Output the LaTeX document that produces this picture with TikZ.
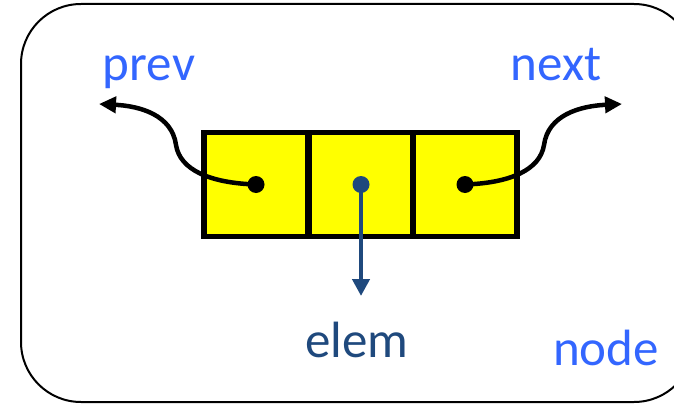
\documentclass[tikz,border=0pt]{standalone}
\usepackage{fontspec}
\setmainfont{Carlito}
\usetikzlibrary{arrows.meta}
\definecolor{labelblue}{HTML}{3366FF}
\definecolor{elemblue}{HTML}{1F497D}
\definecolor{cellyellow}{HTML}{FFFF00}
\tikzset{
  cellbox/.style={draw=black, fill=cellyellow, line width=5.5pt, minimum width=104pt,
    minimum height=104pt, inner sep=0pt, outer sep=0pt},
  linkline/.style={line width=4.5pt, -{Triangle[length=17pt,width=16pt]}},
  lbl/.style={font=\fontsize{51}{60}\selectfont, anchor=base, inner sep=0pt},
  dot/.style={circle, fill=black, minimum size=17pt, inner sep=0pt},
}
\begin{document}
\begin{tikzpicture}[x=1pt, y=-1pt]
\useasboundingbox (0,0) rectangle (674,404);
% outer frame of the list node (right side runs past the edge)
\draw[line width=2pt, rounded corners=60pt] (21,4) rectangle (694,402);
% three cells: prev | elem | next
\node[cellbox] (cprev) at (256,184.5) {};
\node[cellbox] (celem) at (361,184.5) {};
\node[cellbox] (cnext) at (465,184.5) {};
% free ends of the links
\coordinate (pend) at (99,104);
\coordinate (nend) at (622,104);
\coordinate (eend) at (361,296);
% links
\draw[linkline] (cprev.center) .. controls (210,183) and (180,170) .. (176,145)
  .. controls (172,115) and (140,106) .. (pend);
\draw[linkline] (cnext.center) .. controls (510,183) and (540,170) .. (544,145)
  .. controls (548,115) and (580,106) .. (nend);
\draw[elemblue, line width=4.5pt, -{Triangle[length=17pt,width=17pt]}] (celem.center) -- (eend);
\node[dot] at (cprev.center) {};
\node[dot] at (cnext.center) {};
\node[dot, fill=elemblue] at (celem.center) {};
% labels
\node[lbl, labelblue] (lprev) at (149,80) {prev};
\node[lbl, labelblue] (lnext) at (556,80) {next};
\node[lbl, elemblue] (lelem) at (357,357) {elem};
\node[lbl, labelblue] (lnode) at (606,365) {node};
\end{tikzpicture}
\end{document}
